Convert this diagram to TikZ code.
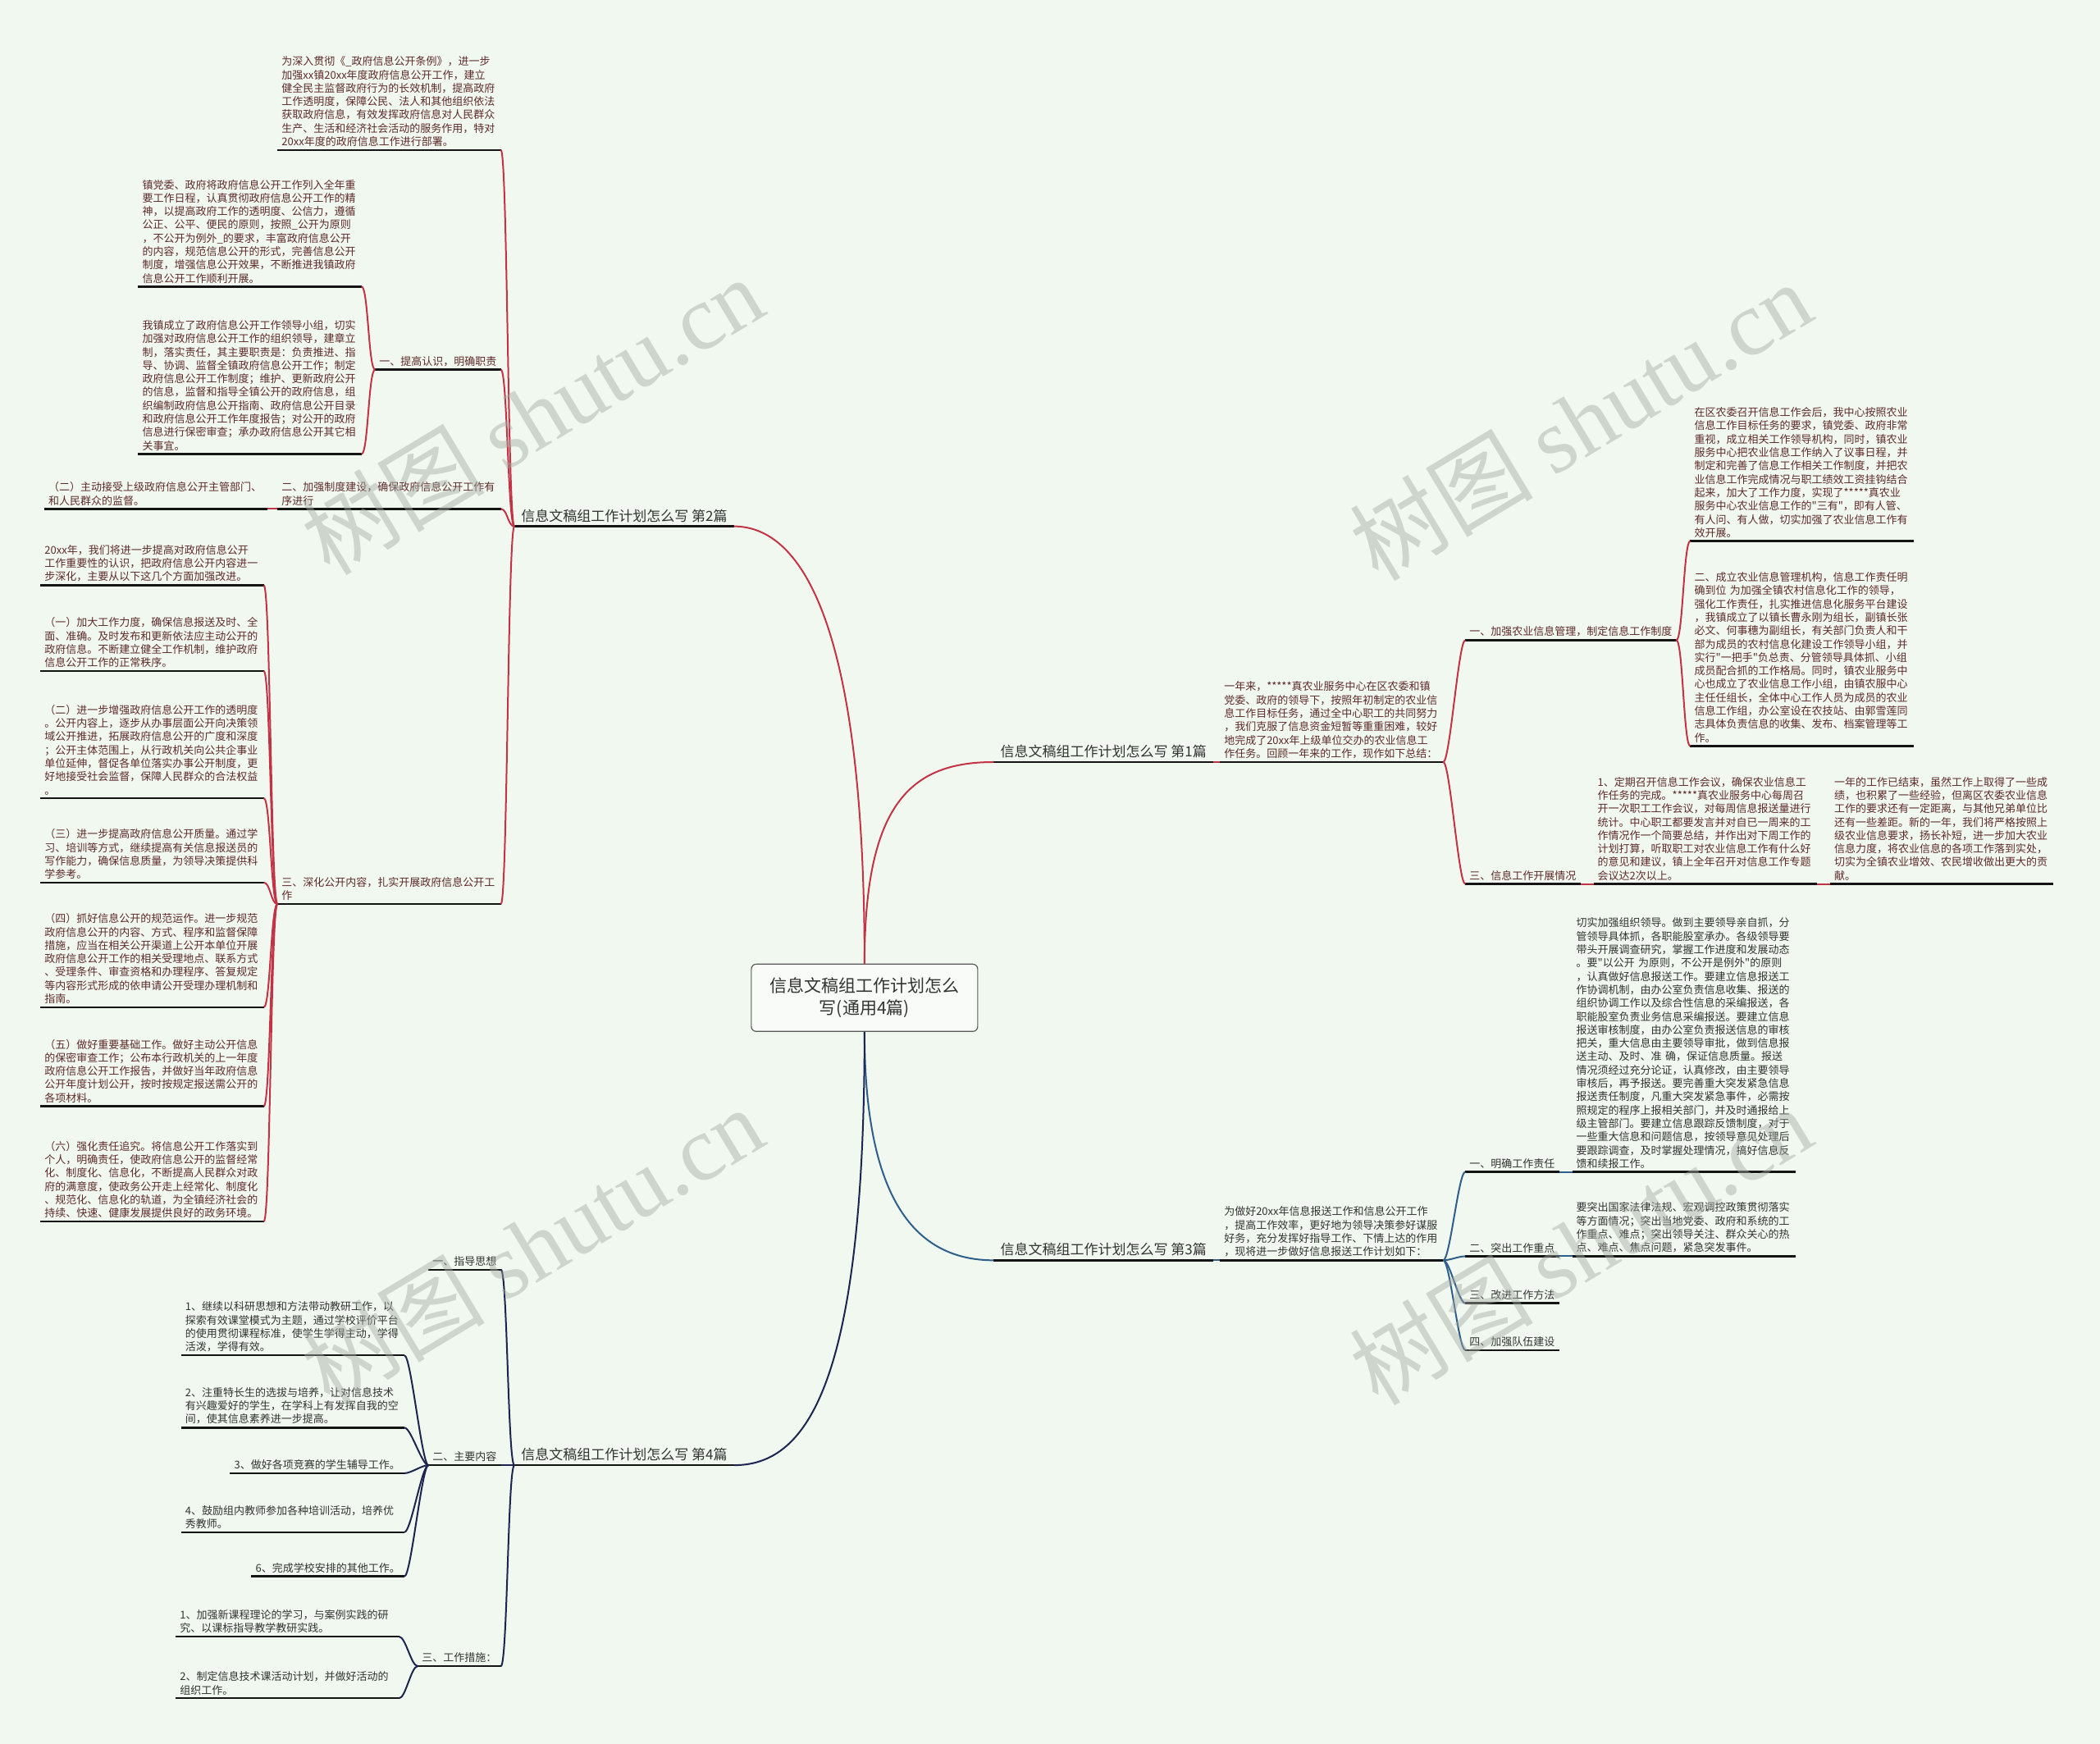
\documentclass[tikz,border=0pt]{standalone}
\usepackage{fontspec}
\usepackage{xcolor}
\usepackage{tikz}
\usetikzlibrary{positioning}
\newfontfamily\cjk{Noto Sans CJK SC}
\newfontfamily\wmfont{Liberation Serif}
\definecolor{bgc}{HTML}{F0F8EF}
\definecolor{redln}{HTML}{C23445}
\definecolor{blueln}{HTML}{2E5E8C}
\definecolor{navyln}{HTML}{1C2550}
\definecolor{redtx}{HTML}{5E2A2A}
\definecolor{graytx}{HTML}{333333}
\definecolor{ulc}{HTML}{141414}
\definecolor{wmc}{HTML}{A4ABA4}

\begin{document}
\begin{tikzpicture}[
  x=1.6327pt, y=-1.6327pt,
  centre/.style={draw=gray!70!black, line width=1.2pt, rounded corners=6pt, fill=bgc!50!white, align=center, minimum width=276pt, minimum height=82pt, text=graytx, font=\cjk\fontsize{21}{27}\selectfont},
  branch/.style={inner xsep=8pt, inner ysep=5pt, text=graytx, font=\cjk\fontsize{17}{20}\selectfont},
  lab/.style={inner xsep=5pt, inner ysep=4pt, align=left, font=\cjk\fontsize{13}{16.3}\selectfont},
  para/.style={lab, text width=262pt},
  rlab/.style={lab, text=redtx},
  rpara/.style={para, text=redtx},
  blab/.style={lab, text=graytx},
  bpara/.style={para, text=graytx},
  uline/.style={draw=ulc, line width=2.4pt},
  link/.style={line width=2pt},
  toL/.style={to path={.. controls ([xshift=-8pt]\tikztostart) and ([xshift=8pt]\tikztotarget) .. (\tikztotarget)}},
  toR/.style={to path={.. controls ([xshift=8pt]\tikztostart) and ([xshift=-8pt]\tikztotarget) .. (\tikztotarget)}},
  wmark/.style={rotate=31, text=wmc, opacity=.45, font=\cjk\fontsize{112}{112}\selectfont}
]
\fill[bgc] (0,0) rectangle (1568,1302);
\useasboundingbox (0,0) rectangle (1568,1302);

% centre
\node[centre] (cn) at (645.5,745) {信息文稿组工作计划怎么\\写(通用4篇)};

% part 2, upper left
\node[branch, anchor=south east] (b2) at (548,393) {信息文稿组工作计划怎么写 第2篇};
\node[rpara, anchor=south east] (b2i) at (374,112) {为深入贯彻《\_政府信息公开条例》，进一步\\加强xx镇20xx年度政府信息公开工作，建立\\健全民主监督政府行为的长效机制，提高政府\\工作透明度，保障公民、法人和其他组织依法\\获取政府信息，有效发挥政府信息对人民群众\\生产、生活和经济社会活动的服务作用，特对\\20xx年度的政府信息工作进行部署。};
\node[rlab, anchor=south east] (b2a) at (374,276) {一、提高认识，明确职责};
\node[rpara, anchor=south east] (b2b) at (374,380) {二、加强制度建设，确保政府信息公开工作有\\序进行};
\node[rpara, anchor=south east] (b2c) at (374,675) {三、深化公开内容，扎实开展政府信息公开工\\作};
\node[rpara, anchor=south east] (a1) at (270,214) {镇党委、政府将政府信息公开工作列入全年重\\要工作日程，认真贯彻政府信息公开工作的精\\神，以提高政府工作的透明度、公信力，遵循\\公正、公平、便民的原则，按照\_公开为原则\\，不公开为例外\_的要求，丰富政府信息公开\\的内容，规范信息公开的形式，完善信息公开\\制度，增强信息公开效果，不断推进我镇政府\\信息公开工作顺利开展。};
\node[rpara, anchor=south east] (a2) at (270,339) {我镇成立了政府信息公开工作领导小组，切实\\加强对政府信息公开工作的组织领导，建章立\\制，落实责任，其主要职责是：负责推进、指\\导、协调、监督全镇政府信息公开工作；制定\\政府信息公开工作制度；维护、更新政府公开\\的信息，监督和指导全镇公开的政府信息，组\\织编制政府信息公开指南、政府信息公开目录\\和政府信息公开工作年度报告；对公开的政府\\信息进行保密审查；承办政府信息公开其它相\\关事宜。};
\node[rpara, left=12pt of b2b.south west, anchor=south east] (bq) {（二）主动接受上级政府信息公开主管部门、\\和人民群众的监督。};
\node[rpara, anchor=south east] (c0) at (197,437) {20xx年，我们将进一步提高对政府信息公开\\工作重要性的认识，把政府信息公开内容进一\\步深化，主要从以下这几个方面加强改进。};
\node[rpara, anchor=south east] (c1) at (197,501) {（一）加大工作力度，确保信息报送及时、全\\面、准确。及时发布和更新依法应主动公开的\\政府信息。不断建立健全工作机制，维护政府\\信息公开工作的正常秩序。};
\node[rpara, anchor=south east] (c2) at (197,596) {（二）进一步增强政府信息公开工作的透明度\\。公开内容上，逐步从办事层面公开向决策领\\域公开推进，拓展政府信息公开的广度和深度\\；公开主体范围上，从行政机关向公共企事业\\单位延伸，督促各单位落实办事公开制度，更\\好地接受社会监督，保障人民群众的合法权益\\。};
\node[rpara, anchor=south east] (c3) at (197,659) {（三）进一步提高政府信息公开质量。通过学\\习、培训等方式，继续提高有关信息报送员的\\写作能力，确保信息质量，为领导决策提供科\\学参考。};
\node[rpara, anchor=south east] (c4) at (197,752) {（四）抓好信息公开的规范运作。进一步规范\\政府信息公开的内容、方式、程序和监督保障\\措施，应当在相关公开渠道上公开本单位开展\\政府信息公开工作的相关受理地点、联系方式\\、受理条件、审查资格和办理程序、答复规定\\等内容形式形成的依申请公开受理办理机制和\\指南。};
\node[rpara, anchor=south east] (c5) at (197,826) {（五）做好重要基础工作。做好主动公开信息\\的保密审查工作；公布本行政机关的上一年度\\政府信息公开工作报告，并做好当年政府信息\\公开年度计划公开，按时按规定报送需公开的\\各项材料。};
\node[rpara, anchor=south east] (c6) at (197,912) {（六）强化责任追究。将信息公开工作落实到\\个人，明确责任，使政府信息公开的监督经常\\化、制度化、信息化，不断提高人民群众对政\\府的满意度，使政务公开走上经常化、制度化\\、规范化、信息化的轨道，为全镇经济社会的\\持续、快速、健康发展提供良好的政务环境。};

% part 1, upper right
\node[branch, anchor=south west] (b1) at (742,569) {信息文稿组工作计划怎么写 第1篇};
\node[rpara, right=8pt of b1.south east, anchor=south west] (s0) {一年来，*****真农业服务中心在区农委和镇\\党委、政府的领导下，按照年初制定的农业信\\息工作目标任务，通过全中心职工的共同努力\\，我们克服了信息资金短暂等重重困难，较好\\地完成了20xx年上级单位交办的农业信息工\\作任务。回顾一年来的工作，现作如下总结：};
\node[rlab, anchor=south west] (s1) at (1094,478) {一、加强农业信息管理，制定信息工作制度};
\node[rlab, anchor=south west] (s3) at (1094,660) {三、信息工作开展情况};
\node[rpara, anchor=south west] (s1a) at (1262,404) {在区农委召开信息工作会后，我中心按照农业\\信息工作目标任务的要求，镇党委、政府非常\\重视，成立相关工作领导机构，同时，镇农业\\服务中心把农业信息工作纳入了议事日程，并\\制定和完善了信息工作相关工作制度，并把农\\业信息工作完成情况与职工绩效工资挂钩结合\\起来，加大了工作力度，实现了*****真农业\\服务中心农业信息工作的"三有"，即有人管、\\有人问、有人做，切实加强了农业信息工作有\\效开展。};
\node[rpara, anchor=south west] (s1b) at (1262,557) {二、成立农业信息管理机构，信息工作责任明\\确到位~为加强全镇农村信息化工作的领导，\\强化工作责任，扎实推进信息化服务平台建设\\，我镇成立了以镇长曹永刚为组长，副镇长张\\必文、何事穗为副组长，有关部门负责人和干\\部为成员的农村信息化建设工作领导小组，并\\实行"一把手"负总责、分管领导具体抓、小组\\成员配合抓的工作格局。同时，镇农业服务中\\心也成立了农业信息工作小组，由镇农服中心\\主任任组长，全体中心工作人员为成员的农业\\信息工作组，办公室设在农技站、由郭雪莲同\\志具体负责信息的收集、发布、档案管理等工\\作。};
\node[rpara, right=16pt of s3.south east, anchor=south west] (s3a) {1、定期召开信息工作会议，确保农业信息工\\作任务的完成。*****真农业服务中心每周召\\开一次职工工作会议，对每周信息报送量进行\\统计。中心职工都要发言并对自已一周来的工\\作情况作一个简要总结，并作出对下周工作的\\计划打算，听取职工对农业信息工作有什么好\\的意见和建议，镇上全年召开对信息工作专题\\会议达2次以上。};
\node[rpara, right=16pt of s3a.south east, anchor=south west] (s3b) {一年的工作已结束，虽然工作上取得了一些成\\绩，也积累了一些经验，但离区农委农业信息\\工作的要求还有一定距离，与其他兄弟单位比\\还有一些差距。新的一年，我们将严格按照上\\级农业信息要求，扬长补短，进一步加大农业\\信息力度，将农业信息的各项工作落到实处，\\切实为全镇农业增效、农民增收做出更大的贡\\献。};

% part 3, lower right
\node[branch, anchor=south west] (b3) at (742,941) {信息文稿组工作计划怎么写 第3篇};
\node[bpara, right=8pt of b3.south east, anchor=south west] (t0) {为做好20xx年信息报送工作和信息公开工作\\，提高工作效率，更好地为领导决策参好谋服\\好务，充分发挥好指导工作、下情上达的作用\\，现将进一步做好信息报送工作计划如下：};
\node[blab, anchor=south west] (t1) at (1094,875) {一、明确工作责任};
\node[blab, anchor=south west] (t2) at (1094,938) {二、突出工作重点};
\node[blab, anchor=south west] (t3) at (1094,973) {三、改进工作方法};
\node[blab, anchor=south west] (t4) at (1094,1008) {四、加强队伍建设};
\node[bpara, right=16pt of t1.south east, anchor=south west] (t1a) {切实加强组织领导。做到主要领导亲自抓，分\\管领导具体抓，各职能股室承办。各级领导要\\带头开展调查研究，掌握工作进度和发展动态\\。要"以公开~为原则，不公开是例外"的原则\\，认真做好信息报送工作。要建立信息报送工\\作协调机制，由办公室负责信息收集、报送的\\组织协调工作以及综合性信息的采编报送，各\\职能股室负责业务信息采编报送。要建立信息\\报送审核制度，由办公室负责报送信息的审核\\把关，重大信息由主要领导审批，做到信息报\\送主动、及时、准~确，保证信息质量。报送\\情况须经过充分论证，认真修改，由主要领导\\审核后，再予报送。要完善重大突发紧急信息\\报送责任制度，凡重大突发紧急事件，必需按\\照规定的程序上报相关部门，并及时通报给上\\级主管部门。要建立信息跟踪反馈制度，对于\\一些重大信息和问题信息，按领导意见处理后\\要跟踪调查，及时掌握处理情况，搞好信息反\\馈和续报工作。};
\node[bpara, right=16pt of t2.south east, anchor=south west] (t2a) {要突出国家法律法规、宏观调控政策贯彻落实\\等方面情况；突出当地党委、政府和系统的工\\作重点、难点；突出领导关注、群众关心的热\\点、难点、焦点问题，紧急突发事件。};

% part 4, lower left
\node[branch, anchor=south east] (b4) at (548,1094) {信息文稿组工作计划怎么写 第4篇};
\node[blab, anchor=south east] (u1) at (374,948) {一、指导思想};
\node[blab, anchor=south east] (u2) at (374,1094) {二、主要内容};
\node[blab, anchor=south east] (u3) at (374,1244) {三、工作措施：};
\node[bpara, anchor=south east] (v1) at (302,1012) {1、继续以科研思想和方法带动教研工作，以\\探索有效课堂模式为主题，通过学校评价平台\\的使用贯彻课程标准，使学生学得主动，学得\\活泼，学得有效。};
\node[bpara, anchor=south east] (v2) at (302,1066) {2、注重特长生的选拔与培养，让对信息技术\\有兴趣爱好的学生，在学科上有发挥自我的空\\间，使其信息素养进一步提高。};
\node[blab, anchor=south east] (v3) at (302,1100) {3、做好各项竞赛的学生辅导工作。};
\node[bpara, anchor=south east] (v4) at (302,1144) {4、鼓励组内教师参加各种培训活动，培养优\\秀教师。};
\node[blab, anchor=south east] (v6) at (302,1177) {6、完成学校安排的其他工作。};
\node[bpara, anchor=south east] (w1) at (298,1222) {1、加强新课程理论的学习，与案例实践的研\\究、以课标指导教学教研实践。};
\node[bpara, anchor=south east] (w2) at (298,1268) {2、制定信息技术课活动计划，并做好活动的\\组织工作。};

% underlines
\foreach \n in {b2,b2i,b2a,b2b,b2c,a1,a2,bq,c0,c1,c2,c3,c4,c5,c6,
                b1,s0,s1,s3,s1a,s1b,s3a,s3b,
                b3,t0,t1,t2,t3,t4,t1a,t2a,
                b4,u1,u2,u3,v1,v2,v3,v4,v6,w1,w2}
  \draw[uline] (\n.south west) -- (\n.south east);

% links, part 2
\draw[link, redln] (cn.north) .. controls (645.5,470) and (600,393) .. (b2.south east);
\foreach \n in {b2i,b2a,b2b,b2c}
  \draw[link, redln] (b2.south west) to[toL] (\n.south east);
\foreach \n in {a1,a2}
  \draw[link, redln] (b2a.south west) to[toL] (\n.south east);
\draw[link, redln] (b2b.south west) -- (bq.south east);
\foreach \n in {c0,c1,c2,c3,c4,c5,c6}
  \draw[link, redln] (b2c.south west) to[toL] (\n.south east);

% links, part 1
\draw[link, redln] (cn.north) .. controls (645.5,600) and (680,569) .. (b1.south west);
\draw[link, redln] (b1.south east) -- (s0.south west);
\foreach \n in {s1,s3}
  \draw[link, redln] (s0.south east) to[toR] (\n.south west);
\foreach \n in {s1a,s1b}
  \draw[link, redln] (s1.south east) to[toR] (\n.south west);
\draw[link, redln] (s3.south east) -- (s3a.south west);
\draw[link, redln] (s3a.south east) -- (s3b.south west);

% links, part 3
\draw[link, blueln] (cn.south) .. controls (645.5,890) and (680,941) .. (b3.south west);
\draw[link, blueln] (b3.south east) -- (t0.south west);
\foreach \n in {t1,t2,t3,t4}
  \draw[link, blueln] (t0.south east) to[toR] (\n.south west);
\draw[link, blueln] (t1.south east) -- (t1a.south west);
\draw[link, blueln] (t2.south east) -- (t2a.south west);

% links, part 4
\draw[link, navyln] (cn.south) .. controls (645.5,1040) and (600,1094) .. (b4.south east);
\foreach \n in {u1,u2,u3}
  \draw[link, navyln] (b4.south west) to[toL] (\n.south east);
\foreach \n in {v1,v2,v3,v4,v6}
  \draw[link, navyln] (u2.south west) to[toL] (\n.south east);
\foreach \n in {w1,w2}
  \draw[link, navyln] (u3.south west) to[toL] (\n.south east);

% watermark
\foreach \wx/\wy in {397/310,1180/314,397/930,1180/930}
  \node[wmark] (wm) at (\wx,\wy) {树图 {\wmfont shutu.cn}};
\end{tikzpicture}
\end{document}
